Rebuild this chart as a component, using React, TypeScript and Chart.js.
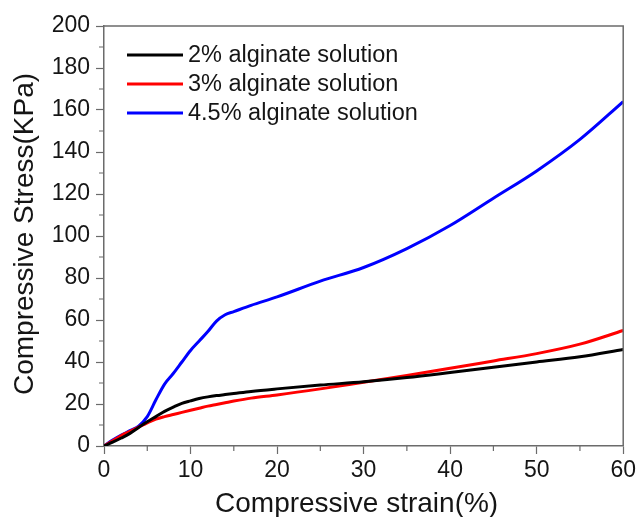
import { useEffect, useRef } from "react";
import { Chart, registerables } from "chart.js";

Chart.register(...registerables);

// Compressive strain (%) at which each curve is sampled
const strain = [0, 1, 2, 3, 4, 5, 6, 7, 8, 9, 10, 11, 12, 13, 14, 15, 17, 20, 25, 30, 35, 40, 45, 50, 55, 60];

// Compressive stress (KPa) for each alginate concentration
const stress2 = [0, 1.8, 3.8, 6, 8.8, 11.5, 14, 16.5, 18.5, 20.3, 21.5, 22.6, 23.4, 24, 24.5, 25, 26, 27.2, 29, 30.6, 32.6, 35, 37.5, 40, 42.5, 46];
const stress3 = [0, 2.5, 5, 7, 9, 11, 12.8, 14, 15, 16, 17, 18, 19, 19.8, 20.6, 21.4, 22.8, 24.3, 27.2, 30.4, 33.6, 37, 40.5, 44, 48.5, 55];
const stress45 = [0, 2.8, 5.2, 7.3, 9.5, 14, 22, 29.5, 34.5, 40, 45.5, 50, 54.5, 59.5, 62.5, 64, 67, 71, 78.5, 85, 94, 105, 118, 131, 146, 164];

const seriesLabels = ["2% alginate solution", "3% alginate solution", "4.5% alginate solution"];
const seriesColors = ["#000000", "#ff0000", "#0000ff"];

const xMajorTicks = [0, 10, 20, 30, 40, 50, 60];
const yMajorTicks = [0, 20, 40, 60, 80, 100, 120, 140, 160, 180, 200];

const xTitle = "Compressive strain(%)";
const yTitle = "Compressive Stress(KPa)";

const FONT = "'Liberation Sans', Arial, sans-serif";
const AXIS_COLOR = "#6b6b6b";
const TEXT_COLOR = "#151515";

// Frame on top/right, minor ticks, axis titles and the in-plot legend
const decorations = {
  id: "decorations",
  afterDraw(chart: any) {
    const { ctx, chartArea, scales } = chart;
    const { left, right, top, bottom } = chartArea;
    ctx.save();
    ctx.strokeStyle = AXIS_COLOR;
    ctx.lineWidth = 1.5;
    ctx.beginPath();
    ctx.moveTo(left, top);
    ctx.lineTo(right, top);
    ctx.lineTo(right, bottom);
    ctx.stroke();

    // minor ticks
    ctx.lineWidth = 1.2;
    ctx.beginPath();
    for (let v = 5; v < 60; v += 10) {
      const px = scales.x.getPixelForValue(v);
      ctx.moveTo(px, bottom);
      ctx.lineTo(px, bottom + 5);
    }
    for (let v = 10; v < 200; v += 20) {
      const py = scales.y.getPixelForValue(v);
      ctx.moveTo(left, py);
      ctx.lineTo(left - 5, py);
    }
    ctx.stroke();

    // axis titles
    ctx.fillStyle = TEXT_COLOR;
    ctx.font = `28px ${FONT}`;
    ctx.textAlign = "center";
    ctx.textBaseline = "alphabetic";
    ctx.fillText(xTitle, (left + right) / 2 - 7, 512);
    ctx.save();
    ctx.translate(33, (top + bottom) / 2 - 2);
    ctx.rotate(-Math.PI / 2);
    ctx.fillText(yTitle, 0, 0);
    ctx.restore();

    // legend
    ctx.font = `23.5px ${FONT}`;
    ctx.textAlign = "left";
    ctx.textBaseline = "middle";
    chart.data.datasets.forEach((ds: any, i: number) => {
      const y = top + 29 + i * 29;
      ctx.strokeStyle = ds.borderColor;
      ctx.lineWidth = 3;
      ctx.beginPath();
      ctx.moveTo(left + 23, y);
      ctx.lineTo(left + 79, y);
      ctx.stroke();
      ctx.fillText(ds.label, left + 84, y + 1);
    });
    ctx.restore();
  },
};

export default function App() {
  const canvasRef = useRef<HTMLCanvasElement | null>(null);

  useEffect(() => {
    if (!canvasRef.current) return;
    const series = [stress2, stress3, stress45];
    const chart = new Chart(canvasRef.current, {
      type: "line",
      data: {
        datasets: series.map((vals, i) => ({
          label: seriesLabels[i],
          data: strain.map((x, j) => ({ x, y: vals[j] })),
          borderColor: seriesColors[i],
          backgroundColor: seriesColors[i],
          borderWidth: 3,
          pointRadius: 0,
          cubicInterpolationMode: "monotone" as const,
          fill: false,
        })),
      },
      options: {
        animation: false,
        responsive: false,
        maintainAspectRatio: false,
        layout: { padding: { top: 26, right: 14, left: 0, bottom: 0 } },
        plugins: {
          legend: { display: false },
          tooltip: { enabled: false },
        },
        scales: {
          x: {
            type: "linear",
            min: 0,
            max: 60,
            afterBuildTicks: (scale: any) => {
              scale.ticks = xMajorTicks.map((value) => ({ value }));
            },
            afterFit: (scale: any) => {
              scale.height = 71;
            },
            ticks: {
              color: TEXT_COLOR,
              font: { family: FONT, size: 23 },
              padding: 3,
              maxRotation: 0,
            },
            grid: {
              drawOnChartArea: false,
              tickLength: 8,
              tickColor: AXIS_COLOR,
              tickWidth: 1.2,
            },
            border: { color: AXIS_COLOR, width: 1.5 },
          },
          y: {
            type: "linear",
            min: 0,
            max: 200,
            afterBuildTicks: (scale: any) => {
              scale.ticks = yMajorTicks.map((value) => ({ value }));
            },
            afterFit: (scale: any) => {
              scale.width = 104;
            },
            ticks: {
              color: TEXT_COLOR,
              font: { family: FONT, size: 23 },
              padding: 6,
            },
            grid: {
              drawOnChartArea: false,
              tickLength: 8,
              tickColor: AXIS_COLOR,
              tickWidth: 1.2,
            },
            border: { color: AXIS_COLOR, width: 1.5 },
          },
        },
      },
      plugins: [decorations],
    });
    return () => chart.destroy();
  }, []);

  return (
    <div style={{ position: "fixed", left: 0, top: 0, width: 639, height: 517, background: "#ffffff" }}>
      <canvas ref={canvasRef} width={639} height={517} />
    </div>
  );
}
